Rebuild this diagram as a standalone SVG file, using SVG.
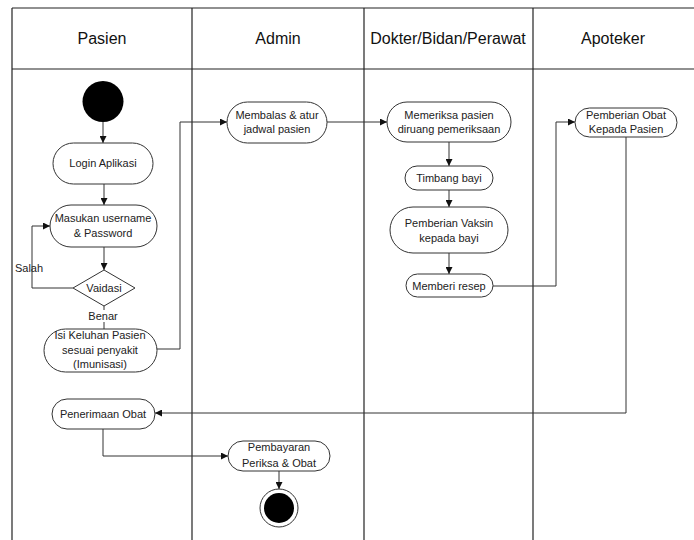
<svg xmlns="http://www.w3.org/2000/svg" width="694" height="540" viewBox="0 0 694 540">
<style>
.lane{stroke:#222;stroke-width:1.2;fill:none}
.hdr{font-family:"Liberation Sans",Arial,sans-serif;font-size:16px;fill:#111;text-anchor:middle}
.node{fill:#fff;stroke:#333;stroke-width:1}
.t{font-family:"Liberation Sans",Arial,sans-serif;font-size:11px;fill:#222;text-anchor:middle}
.c{fill:none;stroke:#333;stroke-width:1}
</style>
<defs>
<marker id="ah" viewBox="0 0 10 10" refX="10" refY="5" markerWidth="7" markerHeight="7" markerUnits="userSpaceOnUse" orient="auto">
<path d="M0,0 L10,5 L0,10 z" fill="#111"/>
</marker>
</defs>
<rect width="694" height="540" fill="#fff"/>
<g id="swimlanes">
<line class="lane" x1="12" y1="8" x2="694" y2="8"/>
<line class="lane" x1="12" y1="69" x2="694" y2="69"/>
<line class="lane" x1="12" y1="8" x2="12" y2="540"/>
<line class="lane" x1="192" y1="8" x2="192" y2="540"/>
<line class="lane" x1="364" y1="8" x2="364" y2="540"/>
<line class="lane" x1="533" y1="8" x2="533" y2="540"/>
<text class="hdr" x="102" y="44">Pasien</text>
<text class="hdr" x="278" y="44">Admin</text>
<text class="hdr" x="448" y="44">Dokter/Bidan/Perawat</text>
<text class="hdr" x="613" y="44">Apoteker</text>
</g>
<g id="connectors">
<line class="c" x1="103" y1="122" x2="103" y2="143" marker-end="url(#ah)"/>
<line class="c" x1="104" y1="184" x2="104" y2="205" marker-end="url(#ah)"/>
<line class="c" x1="104" y1="247" x2="104" y2="270" marker-end="url(#ah)"/>
<polyline class="c" points="73,288 32,288 32,226 50,226" marker-end="url(#ah)"/>
<line class="c" x1="104" y1="306" x2="104" y2="310"/>
<line class="c" x1="104" y1="322" x2="104" y2="329"/>
<polyline class="c" points="157,349 180,349 180,122 227,122" marker-end="url(#ah)"/>
<line class="c" x1="327" y1="122" x2="387" y2="122" marker-end="url(#ah)"/>
<line class="c" x1="449" y1="142" x2="449" y2="166" marker-end="url(#ah)"/>
<line class="c" x1="449" y1="190" x2="449" y2="207" marker-end="url(#ah)"/>
<line class="c" x1="449" y1="253" x2="449" y2="274" marker-end="url(#ah)"/>
<polyline class="c" points="493,286 556,286 556,122 575,122" marker-end="url(#ah)"/>
<polyline class="c" points="626,137 626,413 155,413" marker-end="url(#ah)"/>
<polyline class="c" points="103,429 103,456 228,456" marker-end="url(#ah)"/>
<line class="c" x1="279" y1="471" x2="279" y2="489" marker-end="url(#ah)"/>
</g>
<g id="start"><circle cx="103" cy="101.5" r="20.5" fill="#000"/></g>
<g id="login">
<rect class="node" x="53" y="143" width="100" height="41" rx="20.5"/>
<text class="t" x="103" y="167">Login Aplikasi</text>
</g>
<g id="masukan">
<rect class="node" x="50" y="205" width="107" height="42" rx="21"/>
<text class="t" x="103" y="222">Masukan username</text>
<text class="t" x="103" y="237">&amp; Password</text>
</g>
<g id="validasi">
<polygon class="node" points="104,270 135,288 104,306 73,288"/>
<text class="t" x="104" y="292">Vaidasi</text>
</g>
<g id="labels">
<text class="t" x="29" y="272">Salah</text>
<text class="t" x="103" y="320">Benar</text>
</g>
<g id="isi">
<rect class="node" x="44" y="329" width="113" height="43" rx="21.5"/>
<text class="t" x="100" y="339">Isi Keluhan Pasien</text>
<text class="t" x="100" y="354">sesuai penyakit</text>
<text class="t" x="100" y="368">(Imunisasi)</text>
</g>
<g id="membalas">
<rect class="node" x="227" y="102" width="100" height="41" rx="20.5"/>
<text class="t" x="277" y="119">Membalas &amp; atur</text>
<text class="t" x="277" y="133">jadwal pasien</text>
</g>
<g id="memeriksa">
<rect class="node" x="387" y="102" width="124" height="40" rx="20"/>
<text class="t" x="449" y="119">Memeriksa pasien</text>
<text class="t" x="449" y="133">diruang pemeriksaan</text>
</g>
<g id="timbang">
<rect class="node" x="405" y="166" width="88" height="24" rx="12"/>
<text class="t" x="449" y="182">Timbang bayi</text>
</g>
<g id="vaksin">
<rect class="node" x="390" y="207" width="118" height="46" rx="23"/>
<text class="t" x="449" y="227">Pemberian Vaksin</text>
<text class="t" x="449" y="242">kepada bayi</text>
</g>
<g id="resep">
<rect class="node" x="406" y="274" width="87" height="23" rx="11.5"/>
<text class="t" x="449" y="290">Memberi resep</text>
</g>
<g id="pemberian-obat">
<rect class="node" x="575" y="108" width="102" height="29" rx="14.5"/>
<text class="t" x="626" y="119">Pemberian Obat</text>
<text class="t" x="626" y="133">Kepada Pasien</text>
</g>
<g id="penerimaan">
<rect class="node" x="52" y="399" width="103" height="30" rx="15"/>
<text class="t" x="103" y="418">Penerimaan Obat</text>
</g>
<g id="pembayaran">
<rect class="node" x="228" y="441" width="102" height="30" rx="15"/>
<text class="t" x="279" y="451">Pembayaran</text>
<text class="t" x="279" y="467">Periksa &amp; Obat</text>
</g>
<g id="end">
<circle cx="279" cy="508" r="19" fill="#fff" stroke="#333" stroke-width="1"/>
<circle cx="279" cy="508" r="15" fill="#000"/>
</g>
</svg>
